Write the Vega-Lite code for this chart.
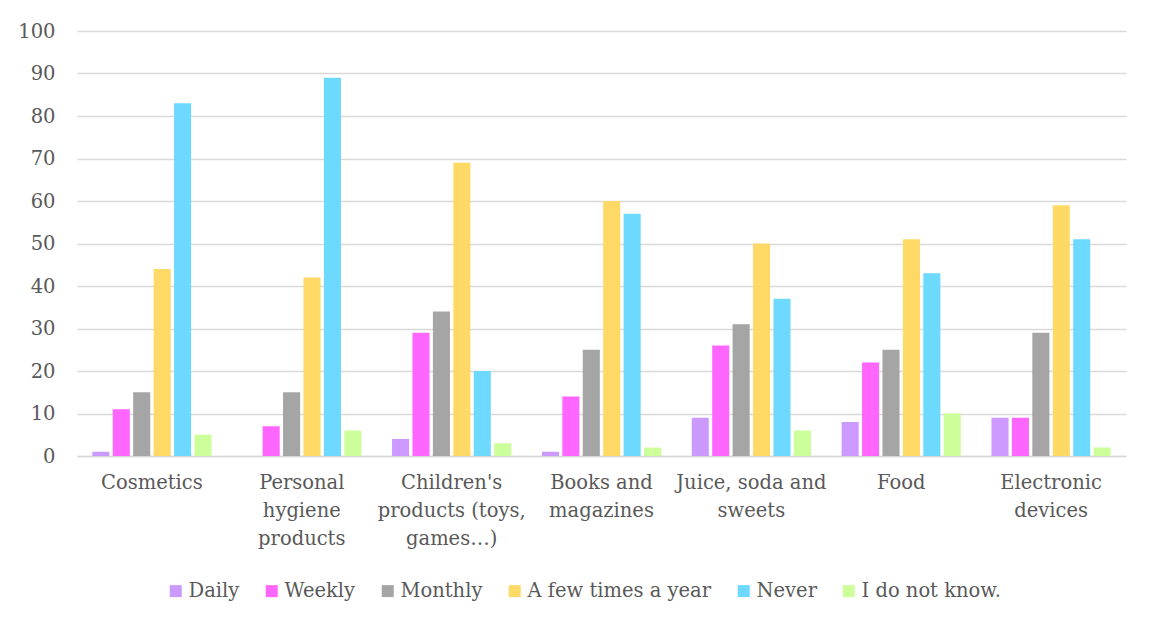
{
  "$schema": "https://vega.github.io/schema/vega-lite/v6.json",
  "width": 1049,
  "height": 425,
  "autosize": {"type": "none"},
  "padding": {"left": 77, "top": 31, "right": 30, "bottom": 174},
  "background": "#ffffff",
  "config": {
    "font": "DejaVu Serif",
    "view": {"stroke": null},
    "axis": {"labelFont": "DejaVu Serif", "labelColor": "#595959", "labelFontSize": 19.5},
    "legend": {"labelFont": "DejaVu Serif"}
  },
  "data": {
    "values": [
      {"category": "Cosmetics", "frequency": "Daily", "percent": 1},
      {"category": "Cosmetics", "frequency": "Weekly", "percent": 11},
      {"category": "Cosmetics", "frequency": "Monthly", "percent": 15},
      {"category": "Cosmetics", "frequency": "A few times a year", "percent": 44},
      {"category": "Cosmetics", "frequency": "Never", "percent": 83},
      {"category": "Cosmetics", "frequency": "I do not know.", "percent": 5},
      {"category": "Personal hygiene products", "frequency": "Daily", "percent": 0},
      {"category": "Personal hygiene products", "frequency": "Weekly", "percent": 7},
      {"category": "Personal hygiene products", "frequency": "Monthly", "percent": 15},
      {"category": "Personal hygiene products", "frequency": "A few times a year", "percent": 42},
      {"category": "Personal hygiene products", "frequency": "Never", "percent": 89},
      {"category": "Personal hygiene products", "frequency": "I do not know.", "percent": 6},
      {"category": "Children's products (toys, games…)", "frequency": "Daily", "percent": 4},
      {"category": "Children's products (toys, games…)", "frequency": "Weekly", "percent": 29},
      {"category": "Children's products (toys, games…)", "frequency": "Monthly", "percent": 34},
      {"category": "Children's products (toys, games…)", "frequency": "A few times a year", "percent": 69},
      {"category": "Children's products (toys, games…)", "frequency": "Never", "percent": 20},
      {"category": "Children's products (toys, games…)", "frequency": "I do not know.", "percent": 3},
      {"category": "Books and magazines", "frequency": "Daily", "percent": 1},
      {"category": "Books and magazines", "frequency": "Weekly", "percent": 14},
      {"category": "Books and magazines", "frequency": "Monthly", "percent": 25},
      {"category": "Books and magazines", "frequency": "A few times a year", "percent": 60},
      {"category": "Books and magazines", "frequency": "Never", "percent": 57},
      {"category": "Books and magazines", "frequency": "I do not know.", "percent": 2},
      {"category": "Juice, soda and sweets", "frequency": "Daily", "percent": 9},
      {"category": "Juice, soda and sweets", "frequency": "Weekly", "percent": 26},
      {"category": "Juice, soda and sweets", "frequency": "Monthly", "percent": 31},
      {"category": "Juice, soda and sweets", "frequency": "A few times a year", "percent": 50},
      {"category": "Juice, soda and sweets", "frequency": "Never", "percent": 37},
      {"category": "Juice, soda and sweets", "frequency": "I do not know.", "percent": 6},
      {"category": "Food", "frequency": "Daily", "percent": 8},
      {"category": "Food", "frequency": "Weekly", "percent": 22},
      {"category": "Food", "frequency": "Monthly", "percent": 25},
      {"category": "Food", "frequency": "A few times a year", "percent": 51},
      {"category": "Food", "frequency": "Never", "percent": 43},
      {"category": "Food", "frequency": "I do not know.", "percent": 10},
      {"category": "Electronic devices", "frequency": "Daily", "percent": 9},
      {"category": "Electronic devices", "frequency": "Weekly", "percent": 9},
      {"category": "Electronic devices", "frequency": "Monthly", "percent": 29},
      {"category": "Electronic devices", "frequency": "A few times a year", "percent": 59},
      {"category": "Electronic devices", "frequency": "Never", "percent": 51},
      {"category": "Electronic devices", "frequency": "I do not know.", "percent": 2}
    ]
  },
  "mark": {"type": "bar"},
  "encoding": {
    "x": {
      "field": "category",
      "type": "nominal",
      "sort": null,
      "title": null,
      "scale": {"paddingInner": 0, "paddingOuter": 0},
      "axis": {
        "labelAngle": 0,
        "ticks": false,
        "domainColor": "#D9D9D9",
        "domainWidth": 1.5,
        "labelPadding": 17,
        "labelLineHeight": 28,
        "labelBaseline": "top",
        "labelLimit": 0,
        "labelExpr": "datum.value == 'Personal hygiene products' ? ['Personal', 'hygiene', 'products'] : datum.value == \"Children's products (toys, games…)\" ? [\"Children's\", 'products (toys,', 'games…)'] : datum.value == 'Books and magazines' ? ['Books and', 'magazines'] : datum.value == 'Juice, soda and sweets' ? ['Juice, soda and', 'sweets'] : datum.value == 'Electronic devices' ? ['Electronic', 'devices'] : datum.value"
      }
    },
    "xOffset": {
      "field": "frequency",
      "type": "nominal",
      "sort": ["Daily", "Weekly", "Monthly", "A few times a year", "Never", "I do not know."],
      "scale": {"paddingInner": 0.164, "paddingOuter": 0.75}
    },
    "y": {
      "field": "percent",
      "type": "quantitative",
      "title": null,
      "scale": {"domain": [0, 100]},
      "axis": {
        "values": [0, 10, 20, 30, 40, 50, 60, 70, 80, 90, 100],
        "domain": false,
        "ticks": false,
        "gridColor": "#D9D9D9",
        "gridWidth": 1.5,
        "labelPadding": 22
      }
    },
    "color": {
      "field": "frequency",
      "type": "nominal",
      "sort": ["Daily", "Weekly", "Monthly", "A few times a year", "Never", "I do not know."],
      "scale": {
        "domain": ["Daily", "Weekly", "Monthly", "A few times a year", "Never", "I do not know."],
        "range": ["#CC99FF", "#FF66FF", "#A5A5A5", "#FFD966", "#6DD9FF", "#CCFF99"]
      },
      "legend": {
        "title": null,
        "orient": "none",
        "direction": "horizontal",
        "legendX": 89,
        "legendY": 550,
        "symbolType": "square",
        "symbolSize": 144,
        "symbolStrokeWidth": 0,
        "symbolOpacity": 1,
        "labelFontSize": 19.5,
        "labelColor": "#595959",
        "labelOffset": 3,
        "labelLimit": 0,
        "columnPadding": 22
      }
    }
  }
}
